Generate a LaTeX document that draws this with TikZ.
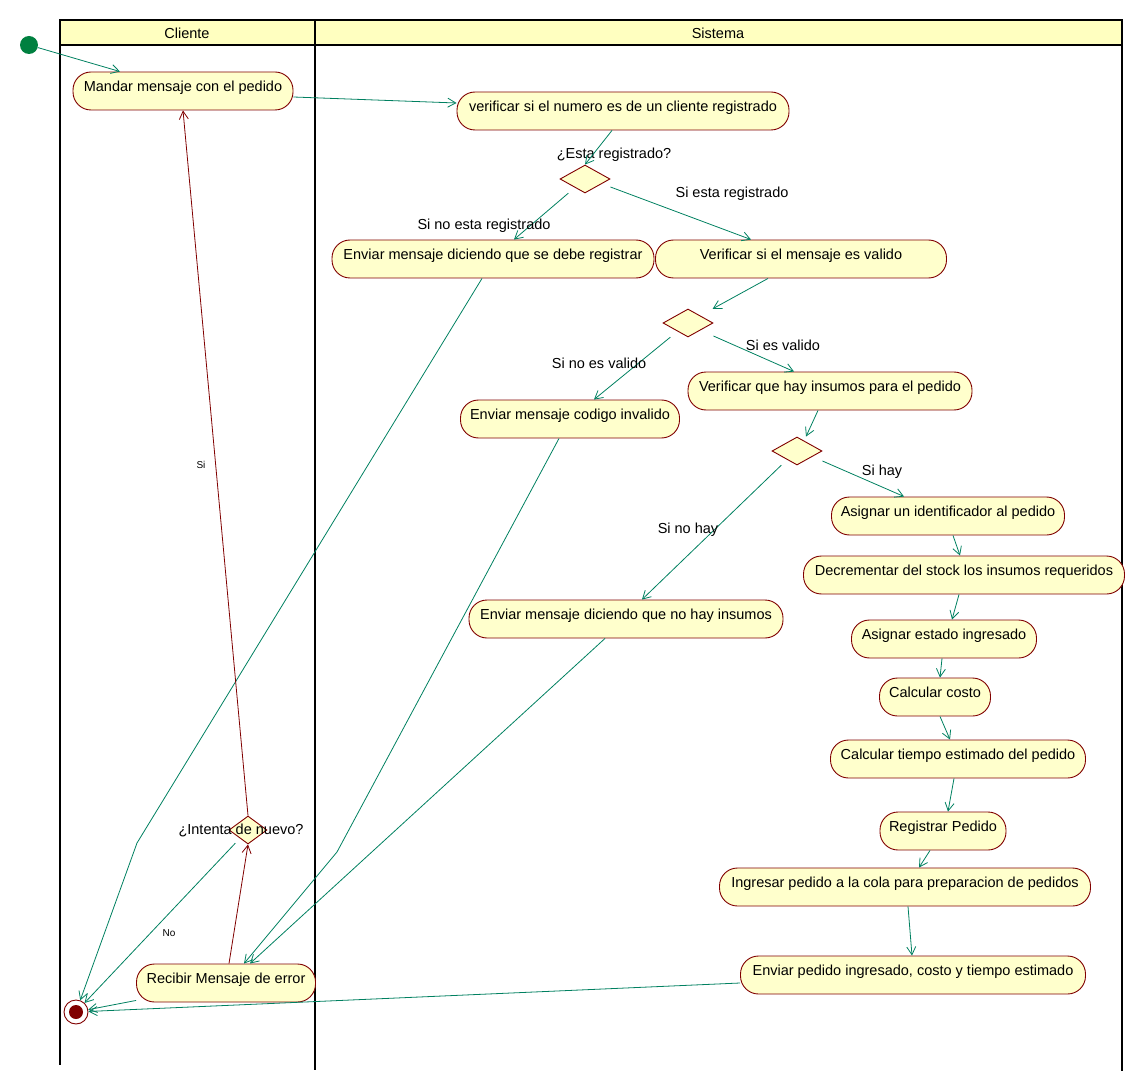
\documentclass[tikz,border=0pt]{standalone}
\usepackage{fontspec}
\setmainfont{Liberation Sans}
\usetikzlibrary{shapes.geometric, arrows.meta, positioning}

\definecolor{flowgreen}{RGB}{0,128,96}
\definecolor{actborder}{RGB}{128,0,0}
\definecolor{actfill}{RGB}{255,255,204}
\definecolor{headfill}{RGB}{255,255,192}
\definecolor{initgreen}{RGB}{0,128,64}

\begin{document}
\begin{tikzpicture}[
  x=1pt, y=-1pt,
  >={Straight Barb[length=8pt,width=9pt]},
  act/.style={rectangle, rounded corners=18pt, draw=actborder, fill=actfill,
    line width=0.9pt, minimum height=38pt, inner sep=0pt, text height=8pt,
    text depth=7pt, font=\fontsize{14.5}{16}\selectfont},
  dec/.style={diamond, draw=actborder, fill=actfill, line width=0.9pt,
    minimum width=50pt, minimum height=28pt, inner sep=0pt},
  lbl/.style={inner sep=1pt, font=\fontsize{14.5}{16}\selectfont},
  small/.style={inner sep=1pt, font=\fontsize{10}{12}\selectfont},
  flow/.style={->, draw=flowgreen, line width=0.8pt},
  back/.style={->, draw=actborder, line width=0.8pt},
  lane/.style={line width=2.5pt}]

  \useasboundingbox (0,0) rectangle (1146,1091);

  % swimlanes
  \draw[lane, fill=headfill] (60,20) rectangle (1122,45);
  \draw[lane] (60,45) -- (60,1065);
  \draw[lane] (315,20) -- (315,1070);
  \draw[lane] (1122,45) -- (1122,1071);
  \node[lbl] (cli) at (187,33) {Cliente};
  \node[lbl] (sis) at (718,33) {Sistema};

  % start and end
  \node[circle, fill=initgreen, minimum size=18pt, inner sep=0pt] (init) at (29,45) {};
  \node[circle, draw=actborder, fill=white, line width=0.9pt, minimum size=24pt, inner sep=0pt] (fin) at (76,1012) {};
  \fill[actborder] (fin.center) circle (7pt);

  % Cliente
  \node[act, minimum width=220pt] (mandar) at (183,91) {Mandar mensaje con el pedido};
  \node[dec, minimum width=38pt] (d4) at (248,830) {};
  \node[lbl] (intenta) at (241,830) {¿Intenta de nuevo?};
  \node[act, minimum width=179pt] (rec) at (226,983) {Recibir Mensaje de error};

  % Sistema
  \node[act, minimum width=332pt] (verif) at (623,111) {verificar si el numero es de un cliente registrado};
  \node[dec] (d1) at (585,179) {};
  \node[lbl] (esta) at (614,155) {¿Esta registrado?};
  \node[act, minimum width=322pt] (reg) at (493,259) {Enviar mensaje diciendo que se debe registrar};
  \node[act, minimum width=291pt] (val) at (801,259) {Verificar si el mensaje es valido};
  \node[dec] (d2) at (688,323) {};
  \node[act, minimum width=219pt] (inv) at (570,419) {Enviar mensaje codigo invalido};
  \node[act, minimum width=284pt] (ins) at (830,391) {Verificar que hay insumos para el pedido};
  \node[dec] (d3) at (797,451) {};
  \node[act, minimum width=314pt] (noh) at (626,619) {Enviar mensaje diciendo que no hay insumos};
  \node[act, minimum width=233pt] (ident) at (948,516) {Asignar un identificador al pedido};
  \node[act, minimum width=321pt] (decr) at (964,575) {Decrementar del stock los insumos requeridos};
  \node[act, minimum width=185pt] (est) at (944,639) {Asignar estado ingresado};
  \node[act, minimum width=111pt] (costo) at (935,697) {Calcular costo};
  \node[act, minimum width=255pt] (tiempo) at (958,759) {Calcular tiempo estimado del pedido};
  \node[act, minimum width=126pt] (regp) at (943,831) {Registrar Pedido};
  \node[act, minimum width=371pt] (ingr) at (905,887) {Ingresar pedido a la cola para preparacion de pedidos};
  \node[act, minimum width=345pt] (envp) at (913,975) {Enviar pedido ingresado, costo y tiempo estimado};

  % bends of the long lines
  \coordinate (bend1) at (137,843);
  \coordinate (bend2) at (337,852);

  % flows
  \draw[flow] (init) -- ([xshift=-63]mandar.north);
  \draw[flow] ([yshift=-6]mandar.east) -- ([yshift=8]verif.west);
  \draw[flow] ([xshift=-11]verif.south) -- (d1.north);
  \draw[flow] ([xshift=-4,yshift=-7]d1.south west) -- ([xshift=21]reg.north);
  \draw[flow] ([yshift=-8]d1.east) -- ([xshift=-50]val.north);
  \draw[flow] ([xshift=-11]reg.south) -- (bend1) -- (fin);
  \draw[flow] ([xshift=-33]val.south) -- ([xshift=12,yshift=7]d2.north east);
  \draw[flow] ([xshift=-5,yshift=-7]d2.south west) -- ([xshift=24]inv.north);
  \draw[flow] ([yshift=-13]d2.east) -- ([xshift=-36]ins.north);
  \draw[flow] ([xshift=-11]inv.south) -- (bend2) -- ([xshift=18]rec.north);
  \draw[flow] ([xshift=-12]ins.south) -- ([xshift=9]d3.north);
  \draw[flow] ([xshift=-3,yshift=-7]d3.south west) -- ([xshift=16]noh.north);
  \draw[flow] ([yshift=-10]d3.east) -- ([xshift=-44]ident.north);
  \draw[flow] ([xshift=-21]noh.south) -- ([xshift=24]rec.north);
  \draw[flow] ([xshift=5]ident.south) -- ([xshift=-4]decr.north);
  \draw[flow] ([xshift=-5]decr.south) -- ([xshift=8]est.north);
  \draw[flow] ([xshift=-2]est.south) -- ([xshift=5]costo.north);
  \draw[flow] ([xshift=5]costo.south) -- ([xshift=-8]tiempo.north);
  \draw[flow] ([xshift=-4]tiempo.south) -- ([xshift=5]regp.north);
  \draw[flow] ([xshift=-13]regp.south) -- ([xshift=14]ingr.north);
  \draw[flow] ([xshift=3]ingr.south) -- ([xshift=-1]envp.north);
  \draw[flow] ([yshift=-8]envp.west) -- (fin);
  \draw[flow] ([yshift=2]rec.south west) -- (fin);
  \draw[flow] ([xshift=-3,yshift=-6]d4.south west) -- (fin);
  \draw[back] ([xshift=3]rec.north) -- (d4.south);
  \draw[back] (d4.north) -- (mandar.south);

  % guard labels
  \node[lbl] (l1) at (484,226) {Si no esta registrado};
  \node[lbl] (l2) at (732,194) {Si esta registrado};
  \node[lbl] (l3) at (599,363) {Si no es valido};
  \node[lbl] (l4) at (783,345) {Si es valido};
  \node[lbl] (l5) at (688,530) {Si no hay};
  \node[lbl] (l6) at (882,472) {Si hay};
  \node[small] (l7) at (201,465) {Si};
  \node[small] (l8) at (169,933) {No};
\end{tikzpicture}
\end{document}
